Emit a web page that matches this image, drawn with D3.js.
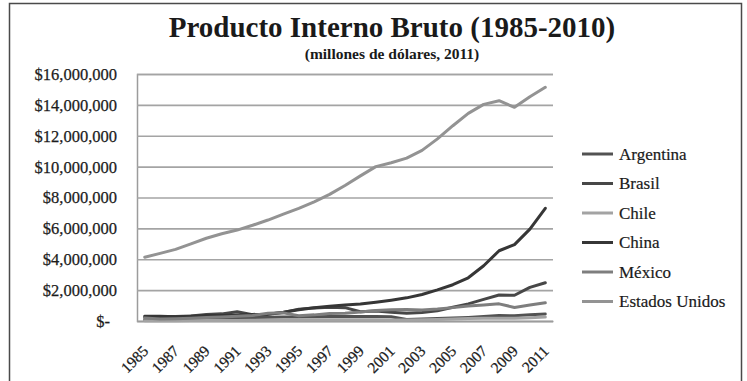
<!DOCTYPE html>
<html>
<head>
<meta charset="utf-8">
<script src="https://cdn.jsdelivr.net/npm/d3@7"></script>
<style>
  html, body { margin: 0; padding: 0; background: #fff; }
  svg { display: block; }
  text { font-family: "Liberation Serif", "DejaVu Serif", serif; }
</style>
</head>
<body>
<svg id="chart" width="747" height="381"></svg>
<script>
// PIB nominal, millones de dólares
const years = d3.range(1985, 2012);
const xTickYears = d3.range(1985, 2012, 2);
const yTicks = d3.range(0, 16000001, 2000000);

const argentina = [88000, 111000, 111000, 126000, 77000, 141000, 190000, 229000, 237000, 257000, 258000, 272000, 293000, 299000, 284000, 284000, 269000, 98000, 128000, 165000, 199000, 233000, 288000, 362000, 333000, 410000, 450000];
const brasil = [225000, 268000, 294000, 330000, 426000, 462000, 603000, 401000, 438000, 558000, 769000, 850000, 883000, 864000, 599000, 655000, 559000, 508000, 558000, 669000, 892000, 1108000, 1397000, 1680000, 1670000, 2180000, 2480000];
const chile = [17000, 18500, 21300, 25200, 28800, 33100, 37900, 46000, 48500, 55200, 71300, 75800, 82800, 79400, 75200, 77900, 71300, 70000, 75600, 99200, 122900, 154800, 173600, 179600, 172400, 218500, 252300];
const china = [310000, 300000, 275000, 310000, 350000, 360000, 385000, 425000, 445000, 565000, 735000, 865000, 960000, 1030000, 1095000, 1220000, 1350000, 1500000, 1720000, 2020000, 2350000, 2800000, 3580000, 4550000, 4950000, 5950000, 7300000];
const mexico = [195000, 135000, 148000, 182000, 221000, 261000, 313000, 363000, 501000, 527000, 344000, 397000, 481000, 502000, 580000, 684000, 725000, 742000, 713000, 770000, 866000, 965000, 1044000, 1110000, 880000, 1030000, 1180000];
const estadosUnidos = [4130000, 4380000, 4640000, 5000000, 5360000, 5650000, 5890000, 6200000, 6540000, 6920000, 7300000, 7720000, 8200000, 8780000, 9400000, 10000000, 10250000, 10550000, 11050000, 11800000, 12650000, 13450000, 14030000, 14270000, 13840000, 14530000, 15140000];

const seriesNames = ["Argentina", "Brasil", "Chile", "China", "México", "Estados Unidos"];
const seriesValues = [argentina, brasil, chile, china, mexico, estadosUnidos];
const seriesColors = ["#525252", "#474747", "#a3a3a3", "#363636", "#7e7e7e", "#939393"];

const svg = d3.select("#chart");
const W = 747, H = 381;
const plot = { left: 137, right: 553, top: 74, bottom: 321 };

// outer frame
svg.append("rect")
  .attr("x", 9.5).attr("y", 3.5)
  .attr("width", 732).attr("height", H + 20)
  .attr("fill", "none").attr("stroke", "#4a4a4a").attr("stroke-width", 1.5);

// titles
svg.append("text")
  .attr("x", 392).attr("y", 37)
  .attr("text-anchor", "middle")
  .attr("font-size", 29).attr("font-weight", "bold").attr("fill", "#1a1a1a")
  .text("Producto Interno Bruto (1985-2010)");
svg.append("text")
  .attr("x", 392).attr("y", 59)
  .attr("text-anchor", "middle")
  .attr("font-size", 15.5).attr("font-weight", "bold").attr("fill", "#1a1a1a")
  .text("(millones de dólares, 2011)");

const x = d3.scalePoint().domain(years).range([plot.left, plot.right]).padding(0.5);
const y = d3.scaleLinear().domain([0, 16000000]).range([plot.bottom, plot.top]);

const fmt = d3.format(",");
// y axis with gridlines
const yAxis = svg.append("g")
  .attr("transform", `translate(${plot.left},0)`)
  .call(d3.axisLeft(y)
    .tickValues(yTicks)
    .tickSize(-(plot.right - plot.left))
    .tickPadding(20)
    .tickFormat(d => d === 0 ? "$-" : "$" + fmt(d)));
yAxis.select(".domain").attr("stroke", "#9c9c9c").attr("stroke-width", 1.5);
yAxis.selectAll(".tick line").attr("stroke", "#a4a4a4").attr("stroke-width", 1.6);
yAxis.selectAll(".tick text")
  .attr("font-family", "'Liberation Serif', serif")
  .attr("font-size", 16.5).attr("fill", "#1c1c1c")
  .attr("stroke", "#1c1c1c").attr("stroke-width", 0.25)
  .attr("x", d => d === 0 ? -27 : -20)
  .attr("dy", "0.33em");

// x axis
const xAxis = svg.append("g")
  .attr("transform", `translate(0,${plot.bottom})`)
  .call(d3.axisBottom(x).tickValues(xTickYears).tickSize(0));
xAxis.select(".domain").attr("stroke", "#9c9c9c").attr("stroke-width", 1.5);
xAxis.selectAll(".tick text")
  .attr("font-family", "'Liberation Serif', serif")
  .attr("font-size", 15.5).attr("fill", "#1c1c1c")
  .attr("stroke", "#1c1c1c").attr("stroke-width", 0.25)
  .attr("text-anchor", "end")
  .attr("x", 0).attr("y", 0).attr("dy", 0)
  .attr("transform", "translate(4,31) rotate(-45)");

// series lines
const line = d3.line()
  .x((d, i) => x(years[i]))
  .y(d => y(d));

svg.append("g").selectAll("path")
  .data(seriesValues)
  .join("path")
  .attr("d", d => line(d))
  .attr("fill", "none")
  .attr("stroke", (d, i) => seriesColors[i])
  .attr("stroke-width", 3)
  .attr("stroke-linejoin", "round")
  .attr("stroke-linecap", "round");

// legend
const legend = svg.append("g");
const legendRows = legend.selectAll("g")
  .data(seriesNames)
  .join("g")
  .attr("transform", (d, i) => `translate(582,${154 + i * 29.5})`);
legendRows.append("line")
  .attr("x1", 0).attr("x2", 31)
  .attr("stroke", (d, i) => seriesColors[i])
  .attr("stroke-width", 3);
legendRows.append("text")
  .attr("x", 37).attr("dy", "0.35em")
  .attr("font-size", 17).attr("fill", "#1a1a1a")
  .attr("stroke", "#1a1a1a").attr("stroke-width", 0.2)
  .text(d => d);
</script>
</body>
</html>
